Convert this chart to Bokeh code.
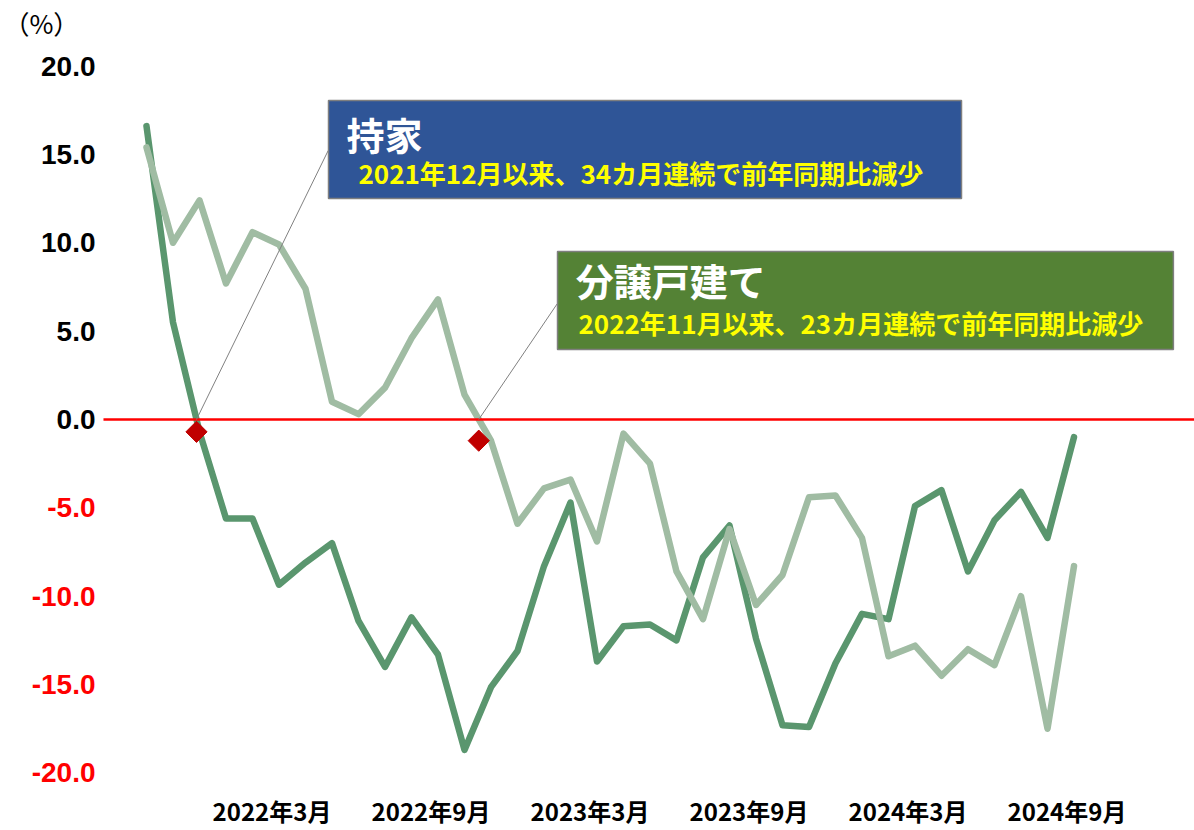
from bokeh.plotting import figure
from bokeh.models import Range1d, Label, BoxAnnotation, ColumnDataSource
from bokeh.core.properties import value
from bokeh.embed import file_html
from bokeh.resources import INLINE
import math

# ---- data -------------------------------------------------------------
months = [
    "2021年10月", "2021年11月", "2021年12月",
    "2022年1月", "2022年2月", "2022年3月", "2022年4月", "2022年5月", "2022年6月",
    "2022年7月", "2022年8月", "2022年9月", "2022年10月", "2022年11月", "2022年12月",
    "2023年1月", "2023年2月", "2023年3月", "2023年4月", "2023年5月", "2023年6月",
    "2023年7月", "2023年8月", "2023年9月", "2023年10月", "2023年11月", "2023年12月",
    "2024年1月", "2024年2月", "2024年3月", "2024年4月", "2024年5月", "2024年6月",
    "2024年7月", "2024年8月", "2024年9月",
]
mochiie = [16.6, 5.5, -0.7, -5.6, -5.6, -9.35, -8.1, -7.0, -11.4, -14.0, -11.2, -13.3,
           -18.7, -15.15, -13.1, -8.3, -4.7, -13.7, -11.7, -11.6, -12.5, -7.8, -6.0, -12.4,
           -17.3, -17.4, -13.8, -11.0, -11.3, -4.9, -4.0, -8.6, -5.7, -4.1, -6.7, -1.0]
bunjo = [15.4, 10.0, 12.4, 7.7, 10.6, 9.9, 7.4, 1.0, 0.3, 1.8, 4.6, 6.8,
         1.4, -1.2, -5.9, -3.9, -3.4, -6.9, -0.8, -2.5, -8.6, -11.3, -6.2, -10.5,
         -8.8, -4.4, -4.3, -6.7, -13.4, -12.8, -14.5, -13.0, -13.9, -10.0, -17.5, -8.3]
tick_labels = ["2022年3月", "2022年9月", "2023年3月", "2023年9月", "2024年3月", "2024年9月"]
y_ticks = [-20, -15, -10, -5, 0, 5, 10, 15, 20]

title_mochiie = "持家"
sub_mochiie = "2021年12月以来、34カ月連続で前年同期比減少"
title_bunjo = "分譲戸建て"
sub_bunjo = "2022年11月以来、23カ月連続で前年同期比減少"
unit_text = "（%）"

# ---- styles -----------------------------------------------------------
DARK = "#5A966E"
LIGHT = "#A0BCA3"
RED = "#FF0000"
DIAMOND = "#C00000"
JP = "Noto Sans CJK JP"
NUM = "Liberation Sans"

X0, X1 = -5.509, 39.547      # full-width frame (axes drawn as text inside)
Y0, Y1 = -23.26, 23.71
AXIS_LEFT = -1.623           # where the plot area (and zero line) begins
XLAB_Y = -22.1               # vertical position of category labels
UNIT_X, UNIT_Y = -5.40, 22.47

idx = list(range(len(months)))

p = figure(width=1194, height=830, output_backend="svg", toolbar_location=None,
           x_range=Range1d(X0, X1), y_range=Range1d(Y0, Y1),
           x_axis_location=None, y_axis_location=None,
           min_border=0, min_border_left=0, min_border_right=0,
           min_border_top=0, min_border_bottom=0)
p.outline_line_color = None
p.background_fill_color = "white"
p.border_fill_color = "white"
p.xgrid.visible = False
p.ygrid.visible = False

# y tick labels (black for >= 0, red for negatives)
ysrc = ColumnDataSource(dict(
    x=[AXIS_LEFT] * len(y_ticks), y=y_ticks,
    t=[f"{v:.1f}" for v in y_ticks],
    c=["black" if v >= 0 else RED for v in y_ticks]))
p.text(x="x", y="y", text="t", text_color="c", source=ysrc, x_offset=-8,
       text_align="right", text_baseline="middle", text_font=value(NUM),
       text_font_style="bold", text_font_size="28px")

# x tick labels
tick_pos = [months.index(t) for t in tick_labels]
xsrc = ColumnDataSource(dict(x=tick_pos, y=[XLAB_Y] * len(tick_pos), t=tick_labels))
p.text(x="x", y="y", text="t", source=xsrc, x_offset=-7, text_align="center",
       text_baseline="middle", text_font=value(JP), text_font_style="bold",
       text_font_size="24px", text_color="black")

# unit
p.text(x=[UNIT_X], y=[UNIT_Y], text=[unit_text], text_align="left", text_baseline="middle",
       text_font=value(JP), text_font_size="26px", text_color="black")

# series
src = ColumnDataSource(dict(x=idx, m=mochiie, b=bunjo))
p.line("x", "m", source=src, line_color=DARK, line_width=6.5, line_join="round", line_cap="round")
p.line("x", "b", source=src, line_color=LIGHT, line_width=6.5, line_join="round", line_cap="round")

# zero line
p.segment(x0=[AXIS_LEFT], y0=[0], x1=[X1], y1=[0], line_color=RED, line_width=2.5)


def first_drop(series):
    for k in range(1, len(series)):
        if series[k] < 0 <= series[k - 1]:
            cross = (k - 1) + series[k - 1] / (series[k - 1] - series[k])
            return k, cross
    return None, None


k_m, cross_m = first_drop(mochiie)
k_b, cross_b = first_drop(bunjo)

# leader lines (to box left edges)
p.segment(x0=[cross_m, cross_b], y0=[0, 0], x1=[6.857, 15.50], y1=[15.22, 6.55],
          line_color="#808080", line_width=1)

# diamonds
p.scatter(x=[cross_m, cross_b], y=[mochiie[k_m], bunjo[k_b]], marker="square", size=15,
          angle=math.pi / 4, fill_color=DIAMOND, line_color=DIAMOND)

# boxes
p.add_layout(BoxAnnotation(left=6.868, right=30.755, bottom=12.51, top=18.05,
                           fill_color="#2F5597", fill_alpha=1.0,
                           line_color="#7F7F7F", line_width=1.5, line_alpha=1.0))
p.add_layout(BoxAnnotation(left=15.51, right=38.75, bottom=3.96, top=9.51,
                           fill_color="#548235", fill_alpha=1.0,
                           line_color="#7F7F7F", line_width=1.5, line_alpha=1.0))

p.add_layout(Label(x=7.55, y=16.2, text=title_mochiie, text_color="white", text_font=JP,
                   text_font_style="bold", text_font_size="38px", text_baseline="middle"))
p.add_layout(Label(x=8.0, y=13.98, text=sub_mochiie, text_color="#FFFF00", text_font=JP,
                   text_font_style="bold", text_font_size="26px", text_baseline="middle"))
p.add_layout(Label(x=16.2, y=7.9, text=title_bunjo, text_color="white", text_font=JP,
                   text_font_style="bold", text_font_size="38px", text_baseline="middle"))
p.add_layout(Label(x=16.30, y=5.49, text=sub_bunjo, text_color="#FFFF00", text_font=JP,
                   text_font_style="bold", text_font_size="26px", text_baseline="middle"))

open("out.html", "w").write(file_html(p, INLINE))
